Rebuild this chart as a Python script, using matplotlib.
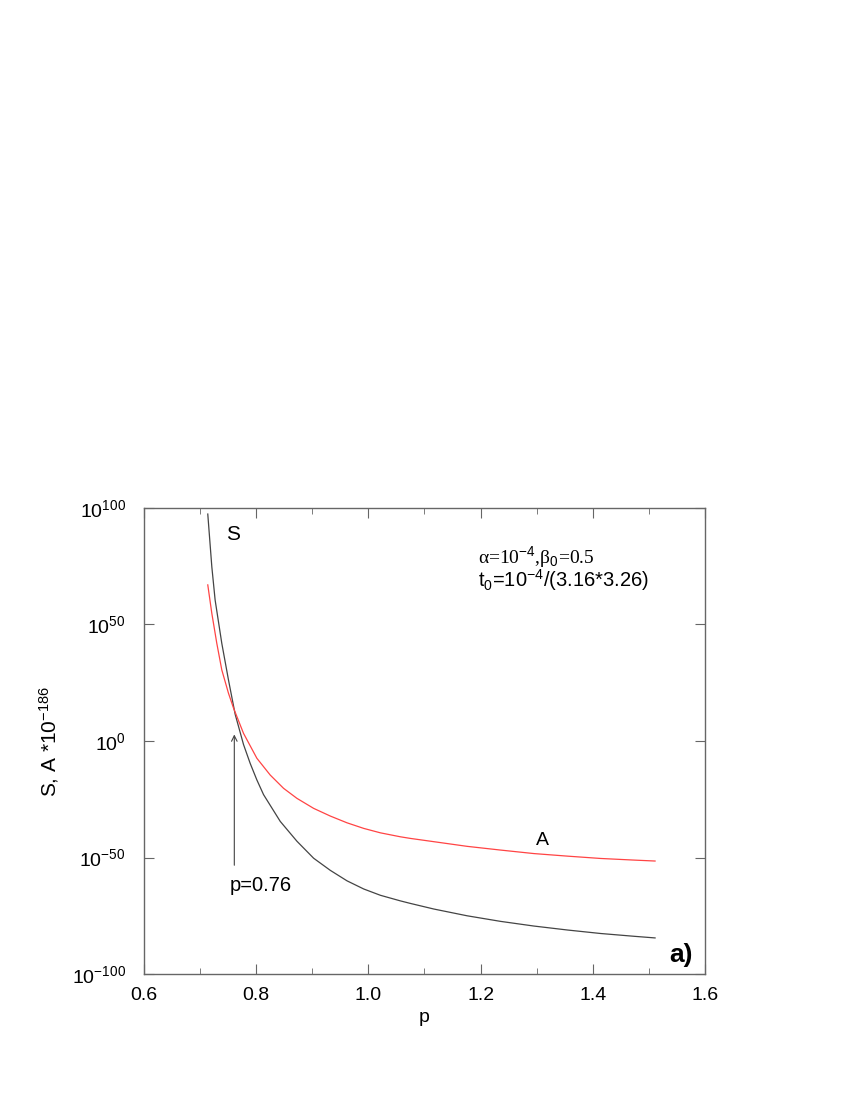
import numpy as np
import matplotlib
matplotlib.use('Agg')
import matplotlib.pyplot as plt
from matplotlib.ticker import MultipleLocator, FixedLocator

plt.rcParams['font.family'] = ['Liberation Sans', 'DejaVu Sans']
plt.rcParams['mathtext.fontset'] = 'custom'
plt.rcParams['mathtext.rm'] = 'Liberation Sans'
plt.rcParams['mathtext.it'] = 'Liberation Sans:italic'
plt.rcParams['mathtext.bf'] = 'Liberation Sans:bold'

# values (log10 of S and of A*1e-186)
pS = [0.7137, 0.7209, 0.7268, 0.7387, 0.7506, 0.7625, 0.7774, 0.7893, 0.8012,
      0.8131, 0.8429, 0.8726, 0.9024, 0.9321, 0.9619, 0.9917, 1.0214, 1.057,
      1.075, 1.1167, 1.176, 1.2357, 1.295, 1.3548, 1.414, 1.4738, 1.511]
logS = [97.4, 74.8, 60.5, 41.9, 26.2, 11.5, -1.5, -9.6, -16.7,
        -23.0, -34.5, -43.0, -50.3, -55.5, -60.0, -63.5, -66.2, -68.6,
        -69.7, -72.1, -75.0, -77.4, -79.4, -81.1, -82.6, -83.8, -84.5]
pA = [0.7137, 0.7209, 0.7298, 0.7387, 0.7506, 0.7595, 0.7774, 0.8012, 0.825,
      0.8488, 0.8726, 0.9024, 0.9321, 0.9619, 0.9917, 1.0214, 1.057, 1.075,
      1.1167, 1.176, 1.2357, 1.295, 1.3548, 1.414, 1.4738, 1.511]
logA = [67.0, 54.8, 41.9, 30.5, 20.5, 14.2, 3.3, -7.4, -14.6,
        -20.3, -24.6, -28.9, -32.2, -35.1, -37.5, -39.4, -41.1, -41.8,
        -43.2, -45.2, -46.8, -48.3, -49.4, -50.4, -51.1, -51.5]

yticks = [1e-100, 1e-50, 1e0, 1e50, 1e100]
ytick_labels = [r'$10^{-100}$', r'$10^{-50}$', r'$10^{0}$', r'$10^{50}$', r'$10^{100}$']
xticks = [0.6, 0.8, 1.0, 1.2, 1.4, 1.6]
xtick_labels = ['0.6', '0.8', '1.0', '1.2', '1.4', '1.6']

fig = plt.figure(figsize=(8.5, 11), dpi=100)
ax = fig.add_axes([0.1694, 0.1145, 0.66, 0.4237])

ax.plot(pS, 10.0 ** np.array(logS), color='#444444', lw=0.9)
ax.plot(pA, 10.0 ** np.array(logA), color='#ff4444', lw=0.9)

ax.set_yscale('log')
ax.set_xlim(0.6, 1.6)
ax.set_ylim(1e-100, 1e100)
ax.yaxis.set_major_locator(FixedLocator(yticks))
ax.yaxis.set_minor_locator(FixedLocator([]))
ax.set_yticklabels(ytick_labels)
ax.set_xticks(xticks)
ax.set_xticklabels(xtick_labels)
ax.xaxis.set_minor_locator(MultipleLocator(0.1))

for s in ax.spines.values():
    s.set_color('#666666')
    s.set_linewidth(1.0)
ax.tick_params(which='both', direction='in', top=True, right=True,
               color='#666666', labelsize=14, pad=9)
ax.tick_params(axis='y', pad=13)
ax.tick_params(which='major', length=7)
ax.tick_params(which='minor', length=4)

ax.set_xlabel('p', fontsize=14, labelpad=4)
ax.set_ylabel(r'S, A *10$^{-186}$', fontsize=15, labelpad=8)

ax.text(0.758, 10 ** 88.6, 'S', fontsize=15, ha='center', va='center')
ax.text(1.31, 10 ** -42.7, 'A', fontsize=14, ha='center', va='center')
ax.text(1.557, 10 ** -91.8, 'a)', fontsize=19, fontweight='bold', ha='center', va='center')

ax.annotate('', xy=(0.761, 10 ** 4.0), xytext=(0.761, 10 ** -54.5),
            arrowprops=dict(arrowstyle='->', color='#444444', lw=0.8))
ax.text(0.7536, 10 ** -62, 'p=0.76', fontsize=14.5, ha='left', va='center')

ax.text(1.1946, 10 ** 76.4, 'α=10$^{-4}$,β$_0$=0.5', fontsize=14,
        family=['Liberation Serif', 'DejaVu Serif'], ha='left', va='baseline')
ax.text(1.1946, 10 ** 66.0, r't$_0$=10$^{-4}$/(3.16*3.26)', fontsize=14.5,
        ha='left', va='baseline')

fig.savefig('out.png', dpi=100)
